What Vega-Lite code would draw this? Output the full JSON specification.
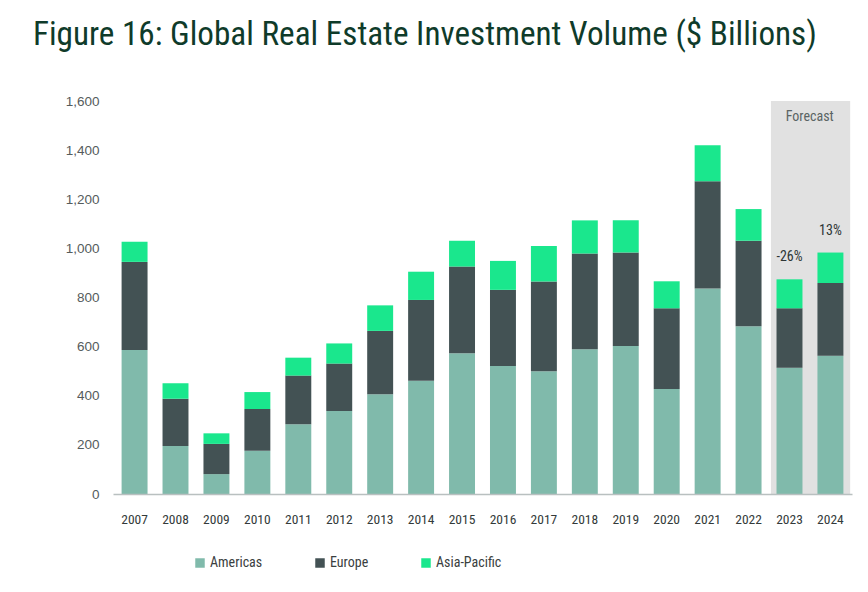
{
  "$schema": "https://vega.github.io/schema/vega-lite/v6.json",
  "width": 739,
  "height": 393,
  "autosize": "none",
  "padding": {"left": 113, "top": 101, "right": 16, "bottom": 98},
  "background": "white",
  "title": {
    "text": "Figure 16: Global Real Estate Investment Volume ($ Billions)",
    "anchor": "start",
    "frame": "group",
    "dx": -80,
    "offset": 42,
    "font": "Liberation Sans Narrow, Roboto Condensed, Arial Narrow, sans-serif",
    "fontSize": 33.2,
    "fontWeight": "normal",
    "color": "#0f3b2a"
  },
  "config": {
    "view": {"stroke": null},
    "font": "Liberation Sans Narrow, Roboto Condensed, Arial Narrow, sans-serif",
    "axis": {"labelFont": "Liberation Sans Narrow, Roboto Condensed, Arial Narrow, sans-serif"},
    "axisX": {
      "title": null,
      "labelAngle": 0,
      "ticks": false,
      "domainColor": "#b9c0c0",
      "domainWidth": 1.5,
      "labelColor": "#333a3a",
      "labelFontSize": 13.5,
      "labelPadding": 18,
      "grid": false
    },
    "axisY": {
      "title": null,
      "format": ",.0f",
      "domain": false,
      "ticks": false,
      "labelFont": "Liberation Sans, Arial, sans-serif",
      "labelColor": "#555c5c",
      "labelFontSize": 13.5,
      "labelPadding": 14,
      "gridColor": "#e3e6e6",
      "gridWidth": 1.5
    }
  },
  "datasets": {
    "volume": [
      {"year": "2007", "region": "Americas", "value": 586},
      {"year": "2007", "region": "Europe", "value": 359},
      {"year": "2007", "region": "Asia-Pacific", "value": 82},
      {"year": "2008", "region": "Americas", "value": 195},
      {"year": "2008", "region": "Europe", "value": 193},
      {"year": "2008", "region": "Asia-Pacific", "value": 63},
      {"year": "2009", "region": "Americas", "value": 81},
      {"year": "2009", "region": "Europe", "value": 123},
      {"year": "2009", "region": "Asia-Pacific", "value": 43},
      {"year": "2010", "region": "Americas", "value": 176},
      {"year": "2010", "region": "Europe", "value": 170},
      {"year": "2010", "region": "Asia-Pacific", "value": 69},
      {"year": "2011", "region": "Americas", "value": 284},
      {"year": "2011", "region": "Europe", "value": 198},
      {"year": "2011", "region": "Asia-Pacific", "value": 73},
      {"year": "2012", "region": "Americas", "value": 338},
      {"year": "2012", "region": "Europe", "value": 193},
      {"year": "2012", "region": "Asia-Pacific", "value": 82},
      {"year": "2013", "region": "Americas", "value": 406},
      {"year": "2013", "region": "Europe", "value": 258},
      {"year": "2013", "region": "Asia-Pacific", "value": 104},
      {"year": "2014", "region": "Americas", "value": 461},
      {"year": "2014", "region": "Europe", "value": 329},
      {"year": "2014", "region": "Asia-Pacific", "value": 115},
      {"year": "2015", "region": "Americas", "value": 573},
      {"year": "2015", "region": "Europe", "value": 353},
      {"year": "2015", "region": "Asia-Pacific", "value": 105},
      {"year": "2016", "region": "Americas", "value": 521},
      {"year": "2016", "region": "Europe", "value": 310},
      {"year": "2016", "region": "Asia-Pacific", "value": 118},
      {"year": "2017", "region": "Americas", "value": 500},
      {"year": "2017", "region": "Europe", "value": 365},
      {"year": "2017", "region": "Asia-Pacific", "value": 145},
      {"year": "2018", "region": "Americas", "value": 589},
      {"year": "2018", "region": "Europe", "value": 390},
      {"year": "2018", "region": "Asia-Pacific", "value": 135},
      {"year": "2019", "region": "Americas", "value": 603},
      {"year": "2019", "region": "Europe", "value": 380},
      {"year": "2019", "region": "Asia-Pacific", "value": 131},
      {"year": "2020", "region": "Americas", "value": 427},
      {"year": "2020", "region": "Europe", "value": 329},
      {"year": "2020", "region": "Asia-Pacific", "value": 110},
      {"year": "2021", "region": "Americas", "value": 837},
      {"year": "2021", "region": "Europe", "value": 436},
      {"year": "2021", "region": "Asia-Pacific", "value": 147},
      {"year": "2022", "region": "Americas", "value": 683},
      {"year": "2022", "region": "Europe", "value": 348},
      {"year": "2022", "region": "Asia-Pacific", "value": 129},
      {"year": "2023", "region": "Americas", "value": 514},
      {"year": "2023", "region": "Europe", "value": 242},
      {"year": "2023", "region": "Asia-Pacific", "value": 118},
      {"year": "2024", "region": "Americas", "value": 563},
      {"year": "2024", "region": "Europe", "value": 296},
      {"year": "2024", "region": "Asia-Pacific", "value": 124}
    ],
    "changes": [
      {"year": "2023", "total": 874, "label": "-26%"},
      {"year": "2024", "total": 983, "label": "13%"}
    ],
    "forecast": [{"label": "Forecast"}]
  },
  "layer": [
    {
      "data": {"name": "forecast"},
      "mark": {"type": "rect", "fill": "#c4c4c4", "opacity": 0.5},
      "encoding": {
        "x": {"datum": "2023", "type": "ordinal", "bandPosition": -0.215},
        "x2": {"datum": "2024", "bandPosition": 1.26},
        "y": {"datum": 1600, "type": "quantitative", "axis": {"values": [0, 200, 400, 600, 800, 1000, 1200, 1400, 1600], "format": ",.0f"}},
        "y2": {"datum": 0}
      }
    },
    {
      "data": {"name": "forecast"},
      "mark": {"type": "text", "fontSize": 14, "color": "#5a6464", "baseline": "middle", "align": "center"},
      "encoding": {
        "x": {"datum": "2024", "type": "ordinal", "bandPosition": -0.3},
        "y": {"datum": 1535, "type": "quantitative"},
        "text": {"field": "label"}
      }
    },
    {
      "data": {"name": "volume"},
      "transform": [
        {"calculate": "indexof(['Americas','Europe','Asia-Pacific'], datum.region)", "as": "stackOrder"}
      ],
      "mark": {"type": "bar"},
      "encoding": {
        "x": {
          "field": "year",
          "type": "ordinal",
          "scale": {"paddingInner": 0.366, "paddingOuter": 0.21}
        },
        "y": {
          "field": "value",
          "type": "quantitative",
          "stack": "zero",
          "scale": {"domain": [0, 1600], "nice": false},
          "axis": {"values": [0, 200, 400, 600, 800, 1000, 1200, 1400, 1600], "format": ",.0f"}
        },
        "order": {"field": "stackOrder", "type": "quantitative", "sort": "ascending"},
        "color": {
          "field": "region",
          "type": "nominal",
          "sort": ["Americas", "Europe", "Asia-Pacific"],
          "scale": {
            "domain": ["Americas", "Europe", "Asia-Pacific"],
            "range": ["#80baab", "#435254", "#1ae78d"]
          },
          "legend": {
            "title": null,
            "orient": "none",
            "direction": "horizontal",
            "legendX": 80,
            "legendY": 455,
            "symbolType": "square",
            "symbolSize": 90,
            "labelFontSize": 14,
            "labelColor": "#3a4040",
            "labelOffset": 3,
            "columnPadding": 50
          }
        }
      }
    },
    {
      "data": {"name": "changes"},
      "mark": {"type": "text", "fontSize": 14, "fontWeight": "normal", "color": "#2d3535", "dy": -22, "baseline": "middle"},
      "encoding": {
        "x": {"field": "year", "type": "ordinal"},
        "y": {"field": "total", "type": "quantitative"},
        "text": {"field": "label"}
      }
    }
  ]
}
